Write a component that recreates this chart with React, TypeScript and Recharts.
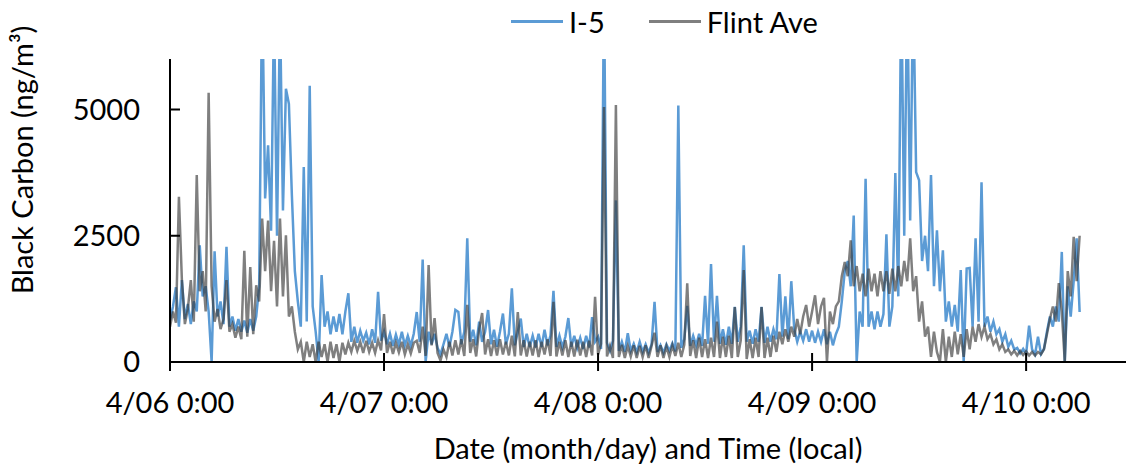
import React from 'react'
import { LineChart, Line, XAxis, YAxis } from 'recharts'

// one reading every 20 minutes from 4/06 0:00 (values in ng/m³)
const STEP_HOURS = 1 / 3

const i5 = [
  820, 1100, 1480, 700, 1620, 850, 1150, 750, 1200, 1000, 2310, 1300,
  1500, 1000, 0, 2190, 900, 1200, 750, 2280, 700, 900, 620, 850,
  600, 820, 580, 850, 620, 900, 1500, 7500, 3240, 4290, 2600, 7000,
  2500, 7000, 3000, 5410, 5110, 3300, 1800, 1200, 700, 3860, 800, 5470,
  1100, 600, 0, 1720, 700, 1000, 550, 900, 600, 950, 550, 1000,
  1360, 400, 700, 380, 620, 420, 580, 350, 650, 380, 1390, 420,
  600, 350, 560, 320, 540, 340, 600, 330, 520, 320, 560, 990,
  400, 2030, 0, 600, 350, 560, 280, 150, 350, 560, 300, 600,
  1030, 990, 350, 600, 2450, 400, 640, 330, 800, 400, 600, 1030,
  350, 640, 300, 600, 960, 350, 560, 1460, 330, 600, 860, 300,
  560, 300, 520, 290, 560, 300, 640, 330, 520, 1410, 300, 520,
  290, 500, 870, 300, 520, 280, 480, 260, 520, 290, 890, 400,
  500, 260, 7500, 380, 220, 420, 3200, 220, 400, 200, 570, 220,
  360, 190, 400, 200, 350, 180, 350, 1190, 200, 330, 180, 350,
  220, 370, 210, 5080, 280, 450, 1110, 320, 520, 330, 560, 320,
  1310, 360, 1940, 400, 1310, 360, 650, 340, 700, 360, 1090, 400,
  700, 2310, 400, 620, 360, 650, 400, 1090, 380, 700, 400, 650,
  450, 1740, 500, 1300, 450, 1600, 650, 400, 600, 420, 650, 400,
  620, 380, 600, 400, 650, 350, 600, 330, 550, 700, 1200, 1800,
  2000, 1500, 2900, 0, 1000, 700, 3630, 700, 1000, 650, 1000, 700,
  950, 2530, 700, 1100, 3740, 1300, 7500, 2500, 7500, 2800, 7500, 3760,
  3600, 2000, 2500, 1800, 3700, 1500, 2610, 1400, 2210, 800, 1200, 700,
  1130, 600, 1820, 0, 1850, 1860, 700, 2450, 800, 3560, 700, 900,
  600, 800, 550, 650, 400, 550, 300, 420, 250, 280, 170, 260,
  160, 720, 250, 150, 500, 160, 260, 600, 900, 700, 1100, 800,
  2180, 0, 1500, 900, 1600, 2450, 990,
]

const flintAve = [
  700, 1000, 780, 3270, 1620, 750, 1050, 1620, 800, 3700, 1400, 1800,
  1000, 5330, 1500, 800, 1050, 650, 850, 1620, 600, 750, 480, 700,
  450, 2200, 500, 1880, 550, 1520, 1200, 2840, 1800, 2800, 1400, 2400,
  1100, 2840, 1300, 2510, 900, 1100, 600, 250, 400, 0, 400, 100,
  350, 0, 400, 100, 350, 0, 400, 80, 350, 0, 380, 150,
  380, 200, 420, 220, 400, 180, 420, 200, 380, 180, 430, 230,
  950, 180, 400, 160, 380, 190, 400, 150, 350, 170, 380, 420,
  180, 700, 120, 1920, 330, 870, 180, 30, 250, 100, 400, 130,
  430, 150, 450, 120, 1130, 180, 450, 110, 650, 970, 150, 450,
  120, 430, 130, 450, 150, 400, 130, 520, 110, 990, 130, 430,
  110, 400, 130, 430, 100, 400, 150, 450, 120, 1190, 110, 400,
  130, 430, 100, 400, 110, 440, 130, 400, 100, 420, 130, 1290,
  150, 360, 5050, 110, 320, 80, 5090, 100, 340, 80, 320, 110,
  330, 80, 320, 100, 330, 80, 320, 580, 100, 330, 80, 310,
  100, 330, 120, 380, 100, 340, 1560, 120, 430, 80, 480, 100,
  450, 80, 480, 100, 800, 80, 500, 100, 520, 80, 1090, 100,
  430, 1820, 60, 450, 80, 480, 100, 1090, 80, 480, 100, 520,
  200, 600, 350, 650, 400, 700, 500, 850, 550, 900, 1130, 700,
  1000, 1320, 750, 1100, 1270, 0, 1000, 750, 1100, 1200, 1700, 1980,
  1700, 2410, 1500, 1900, 1400, 1750, 1300, 1850, 1400, 1750, 1300, 1800,
  1400, 1800, 1350, 1850, 1400, 1900, 1500, 2000, 1600, 2450, 1400, 1700,
  800, 1200, 500, 700, 100, 600, 200, 0, 650, 0, 500, 100,
  600, 150, 550, 100, 650, 250, 700, 400, 750, 500, 700, 450,
  550, 350, 450, 250, 350, 200, 250, 150, 220, 130, 220, 140,
  210, 130, 200, 130, 200, 150, 250, 550, 850, 1100, 800, 1560,
  1000, 0, 1800, 1300, 2480, 1600, 2500,
]

const tickHours = [0, 24, 48, 72, 96]
const tickLabels = ['4/06 0:00', '4/07 0:00', '4/08 0:00', '4/09 0:00', '4/10 0:00']
const yTicks = [0, 2500, 5000]

const data = i5.map((v, i) => ({ t: i * STEP_HOURS, i5: v, flint: flintAve[i] }))

const FONT = 'Lato, sans-serif'
const BLUE = '#5B9BD5'
const GRAY = '#3a3a3a'
const GRAY_OPACITY = 0.65

function XTick(props: any) {
  const { x, y, payload } = props
  const label = tickLabels[tickHours.indexOf(payload.value)]
  return (
    <g>
      <line x1={x} x2={x} y1={y - 9} y2={y + 9} stroke="#000" strokeWidth={2} />
      <text x={x} y={y + 51} textAnchor="middle" fontSize={29} fontFamily={FONT} fill="#000">
        {label}
      </text>
    </g>
  )
}

function YTick(props: any) {
  const { x, y, payload } = props
  return (
    <g>
      <line x1={x} x2={x + 10} y1={y} y2={y} stroke="#000" strokeWidth={2} />
      <text x={x - 30} y={y + 10} textAnchor="end" fontSize={29} fontFamily={FONT} fill="#000">
        {payload.value}
      </text>
    </g>
  )
}

function YTitle(props: any) {
  const vb = props.viewBox || { x: 0, y: 59 }
  return (
    <text
      transform={`translate(${vb.x + 33}, ${vb.y + 101}) rotate(-90)`}
      textAnchor="middle"
      fontSize={29}
      fontFamily={FONT}
      fill="#000"
    >
      Black Carbon (ng/m³)
    </text>
  )
}

function LegendBox() {
  const item = (color: string, opacity: number, name: string, gap: number) => (
    <div style={{ display: 'flex', alignItems: 'center', marginRight: gap }}>
      <span
        style={{ display: 'inline-block', width: 52, height: 2.5, background: color, opacity, marginRight: 6 }}
      />
      <span>{name}</span>
    </div>
  )
  return (
    <div
      style={{
        position: 'absolute',
        top: 4,
        left: 511,
        display: 'flex',
        alignItems: 'center',
        fontFamily: FONT,
        fontSize: 29,
        color: '#000',
        whiteSpace: 'nowrap',
      }}
    >
      {item(BLUE, 1, 'I-5', 44)}
      {item(GRAY, GRAY_OPACITY, 'Flint Ave', 0)}
    </div>
  )
}

export default function App() {
  return (
    <div style={{ position: 'absolute', left: 0, top: 0, width: 1126, height: 466, background: '#fff' }}>
      <LineChart width={1126} height={466} data={data} margin={{ top: 59, right: 0, bottom: 0, left: 0 }}>
        <XAxis
          dataKey="t"
          type="number"
          domain={[0, 107.2]}
          ticks={tickHours}
          interval={0}
          allowDataOverflow
          height={104}
          tickSize={0}
          tickMargin={0}
          tickLine={false}
          axisLine={{ stroke: '#000', strokeWidth: 2 }}
          tick={(p: any) => <XTick {...p} />}
          label={{
            value: 'Date (month/day) and Time (local)',
            position: 'insideBottom',
            offset: 7,
            fontSize: 29,
            fontFamily: FONT,
            fill: '#000',
          }}
        />
        <YAxis
          type="number"
          domain={[0, 6000]}
          ticks={yTicks}
          interval={0}
          allowDataOverflow
          width={170}
          tickSize={0}
          tickMargin={0}
          tickLine={false}
          axisLine={{ stroke: '#000', strokeWidth: 2 }}
          tick={(p: any) => <YTick {...p} />}
          label={<YTitle />}
        />
        <Line
          type="linear"
          dataKey="i5"
          name="I-5"
          stroke={BLUE}
          strokeWidth={2.5}
          dot={false}
          isAnimationActive={false}
        />
        <Line
          type="linear"
          dataKey="flint"
          name="Flint Ave"
          stroke={GRAY}
          strokeOpacity={GRAY_OPACITY}
          strokeWidth={2.5}
          dot={false}
          isAnimationActive={false}
        />
      </LineChart>
      <LegendBox />
    </div>
  )
}
